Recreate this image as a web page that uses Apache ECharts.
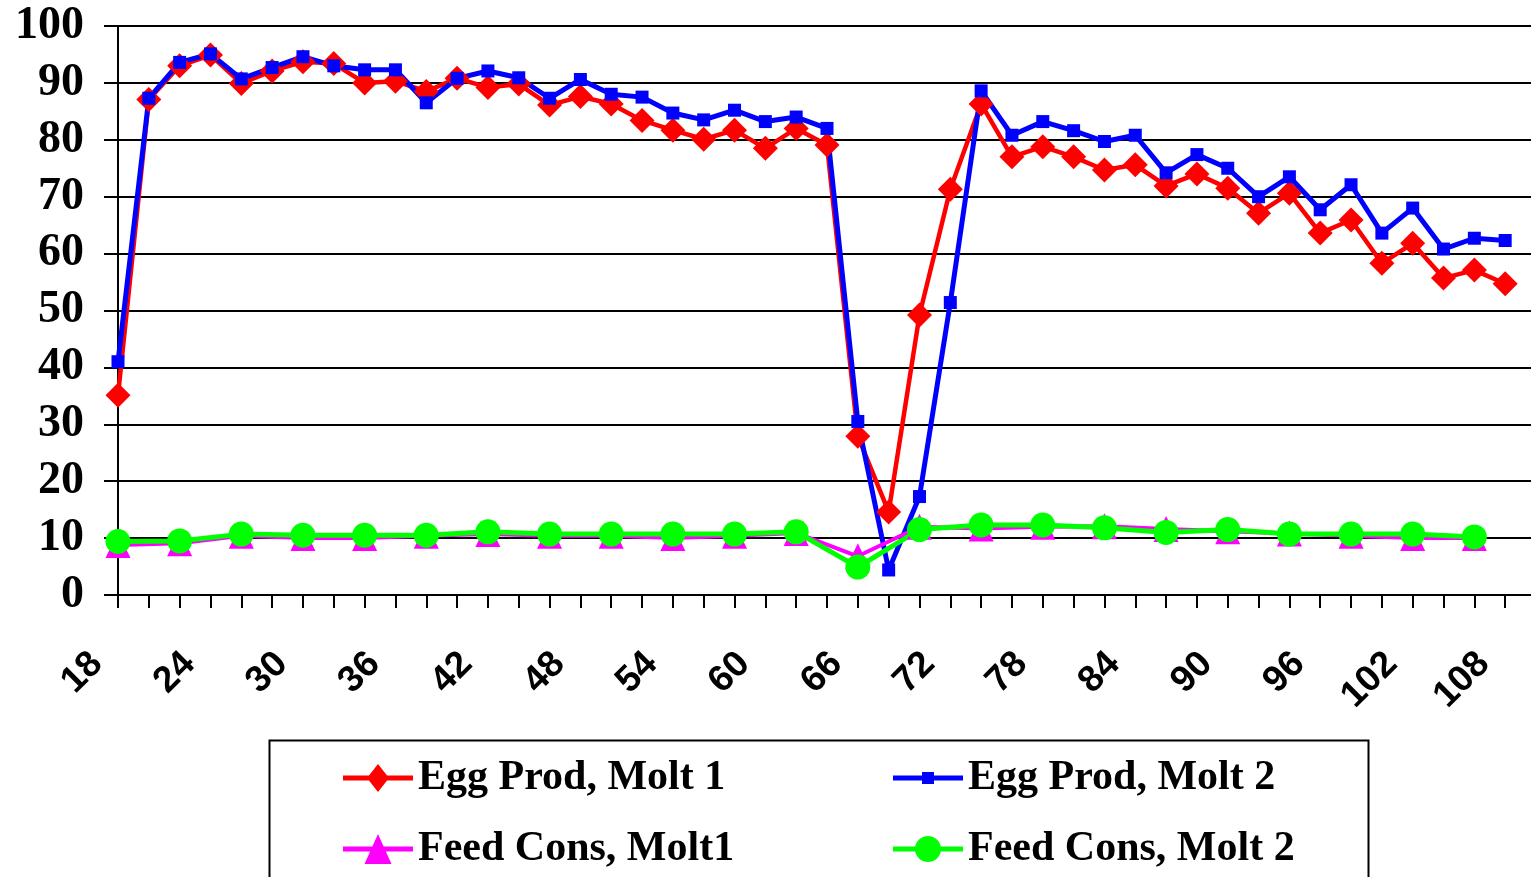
<!DOCTYPE html>
<html>
<head>
<meta charset="utf-8">
<script src="https://cdn.jsdelivr.net/npm/echarts@6/dist/echarts.min.js"></script>
<style>
html, body { margin: 0; padding: 0; background: #ffffff; }
#chart { width: 1531px; height: 877px; }
</style>
</head>
<body>
<div id="chart"></div>
<script>
// Age in weeks (category axis, every 2 weeks)
const weeks = [18, 20, 22, 24, 26, 28, 30, 32, 34, 36, 38, 40, 42, 44, 46, 48, 50, 52, 54, 56,
  58, 60, 62, 64, 66, 68, 70, 72, 74, 76, 78, 80, 82, 84, 86, 88, 90, 92, 94, 96,
  98, 100, 102, 104, 106, 108, 110];

// Egg production, weeks 18..108
const eggMolt1 = [35.1, 87.1, 93.0, 94.9, 89.9, 92.1, 93.7, 93.4, 90.0, 90.3,
  88.5, 90.8, 89.2, 89.8, 86.1, 87.6, 86.3, 83.4, 81.7, 80.1,
  81.7, 78.5, 82.0, 79.1, 27.9, 14.6, 49.2, 71.3, 86.3, 77.0,
  78.8, 77.0, 74.7, 75.6, 71.9, 74.0, 71.5, 67.1, 70.6, 63.6,
  65.9, 58.3, 61.8, 55.7, 57.1, 54.7];
const eggMolt2 = [41.0, 87.3, 93.6, 95.1, 90.7, 92.7, 94.6, 93.0, 92.3, 92.3,
  86.5, 90.8, 92.1, 90.9, 87.3, 90.6, 88.0, 87.5, 84.7, 83.5,
  85.2, 83.2, 84.0, 82.0, 30.5, 4.4, 17.3, 51.4, 88.6, 80.8,
  83.2, 81.6, 79.7, 80.8, 74.2, 77.4, 75.0, 70.0, 73.5, 67.7,
  72.1, 63.6, 68.0, 60.8, 62.7, 62.3];

// Feed consumption, measured every 4 weeks
const feedWeeks = [18, 22, 26, 30, 34, 38, 42, 46, 50, 54, 58, 62, 66, 70, 74, 78, 82, 86, 90, 94, 98, 102, 106];
const feedMolt1 = [8.8, 9.1, 10.4, 10.0, 10.0, 10.4, 10.7, 10.4, 10.4, 10.0, 10.4, 10.9,
  6.8, 12.0, 11.7, 12.0, 12.1, 11.6, 11.2, 10.8, 10.4, 10.0, 10.0];
const feedMolt2 = [9.4, 9.5, 10.7, 10.5, 10.5, 10.5, 11.1, 10.7, 10.7, 10.7, 10.7, 11.1,
  4.9, 11.5, 12.3, 12.3, 11.8, 11.0, 11.5, 10.7, 10.7, 10.7, 10.2];

const seriesNames = ['Egg Prod, Molt 1', 'Egg Prod, Molt 2', 'Feed Cons, Molt1', 'Feed Cons, Molt 2'];

const categories = weeks.map(String);
const feed1Data = feedWeeks.map((w, i) => [String(w), feedMolt1[i]]);
const feed2Data = feedWeeks.map((w, i) => [String(w), feedMolt2[i]]);

// legend icons: line + marker, drawn in a 70 x 32 box
const BOX = 'M0,0 M70,32 ';
const BAR = 'M0,13.5 L70,13.5 L70,18.5 L0,18.5 Z ';
const icons = {
  diamond: 'path://' + BOX + BAR + 'M35,2 L46,16 L35,30 L24,16 Z',
  square: 'path://' + BOX + BAR + 'M29,10 L41,10 L41,22 L29,22 Z',
  triangle: 'path://' + BOX + BAR + 'M35,1 L48.5,31 L21.5,31 Z',
  circle: 'path://' + BOX + BAR + 'M22,16 A13,13 0 1,1 48,16 A13,13 0 1,1 22,16 Z'
};

const legendText = {
  fontFamily: 'Liberation Serif', fontWeight: 'bold', fontSize: 42,
  color: '#000', lineHeight: 32
};

const legendCommon = {
  orient: 'vertical', top: 757, height: 300, padding: 0,
  itemWidth: 70, itemHeight: 32, itemGap: 29,
  selectedMode: false,
  textStyle: legendText
};

const chart = echarts.init(document.getElementById('chart'), null, { renderer: 'canvas' });
chart.setOption({
  animation: false,
  backgroundColor: '#ffffff',
  grid: {
    left: 118, right: -5, top: 26, bottom: 282,
    containLabel: false, outerBoundsMode: 'none'
  },
  xAxis: {
    type: 'category',
    data: categories,
    boundaryGap: false,
    axisLine: { show: true, lineStyle: { color: '#000', width: 2 } },
    axisTick: { show: true, interval: 0, length: 13, lineStyle: { color: '#000', width: 2 } },
    axisLabel: {
      interval: 2, rotate: 45, margin: 42, padding: [0, 30, 0, 0],
      fontFamily: 'Liberation Sans', fontWeight: 'bold', fontSize: 37, color: '#000'
    },
    splitLine: { show: false }
  },
  yAxis: {
    type: 'value',
    min: 0, max: 100, interval: 10,
    axisLine: { show: true, lineStyle: { color: '#000', width: 2 } },
    axisTick: { show: true, length: 14, lineStyle: { color: '#000', width: 2 } },
    axisLabel: {
      margin: 34, fontFamily: 'Liberation Serif', fontWeight: 'bold', fontSize: 46, color: '#000'
    },
    splitLine: { show: true, lineStyle: { color: '#000', width: 2 } }
  },
  legend: [
    Object.assign({}, legendCommon, {
      left: 343,
      data: [
        { name: seriesNames[0], icon: icons.diamond },
        { name: seriesNames[2], icon: icons.triangle }
      ]
    }),
    Object.assign({}, legendCommon, {
      left: 893,
      data: [
        { name: seriesNames[1], icon: icons.square },
        { name: seriesNames[3], icon: icons.circle }
      ]
    })
  ],
  graphic: [
    {
      type: 'rect', left: 267, top: 738, z: -1, silent: true,
      shape: { width: 1099, height: 160 },
      style: { fill: 'none', stroke: '#000', lineWidth: 2 }
    }
  ],
  series: [
    {
      name: seriesNames[0], type: 'line', data: eggMolt1,
      symbol: 'diamond', symbolSize: 25, showAllSymbol: true,
      itemStyle: { color: '#ff0000' },
      lineStyle: { color: '#ff0000', width: 4.5 }
    },
    {
      name: seriesNames[1], type: 'line', data: eggMolt2,
      symbol: 'rect', symbolSize: 13, showAllSymbol: true,
      itemStyle: { color: '#0000ff' },
      lineStyle: { color: '#0000ff', width: 5 }
    },
    {
      name: seriesNames[2], type: 'line', data: feed1Data,
      symbol: 'triangle', symbolSize: [25, 26], showAllSymbol: true, connectNulls: true,
      itemStyle: { color: '#ff00ff' },
      lineStyle: { color: '#ff00ff', width: 4 }
    },
    {
      name: seriesNames[3], type: 'line', data: feed2Data,
      symbol: 'circle', symbolSize: 25, showAllSymbol: true, connectNulls: true,
      itemStyle: { color: '#00ff00' },
      lineStyle: { color: '#00ff00', width: 5 }
    }
  ]
});
</script>
</body>
</html>
